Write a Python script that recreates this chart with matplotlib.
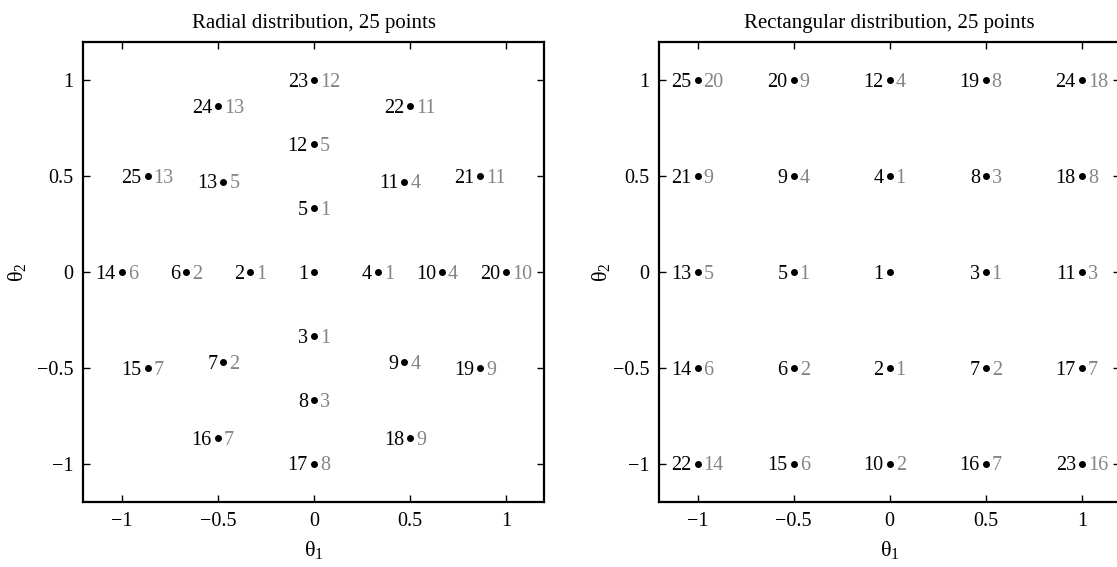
import matplotlib
matplotlib.use("Agg")
import matplotlib.pyplot as plt

plt.rcParams['font.family'] = ['Liberation Serif', 'DejaVu Serif']
plt.rcParams['mathtext.fontset'] = 'custom'
plt.rcParams['mathtext.rm'] = 'Liberation Serif'

# ---- Radial distribution data ----
radial_x = [0, -0.333, 0, 0.333, 0,
            -0.667, -0.471, 0, 0.471, 0.667, 0.471, 0, -0.471,
            -1, -0.866, -0.5, 0, 0.5, 0.866, 1, 0.866, 0.5, 0, -0.5, -0.866]
radial_y = [0, 0, -0.333, 0, 0.333,
            0, -0.471, -0.667, -0.471, 0, 0.471, 0.667, 0.471,
            0, -0.5, -0.866, -1, -0.866, -0.5, 0, 0.5, 0.866, 1, 0.866, 0.5]
radial_id = list(range(1, 26))
radial_parent = ['', '1', '1', '1', '1',
                 '2', '2', '3', '4', '4', '4', '5', '5',
                 '6', '7', '7', '8', '9', '9', '10', '11', '11', '12', '13', '13']

# ---- Rectangular distribution data ----
rect_x = [-1, -0.5, 0, 0.5, 1,
          -1, -0.5, 0, 0.5, 1,
          -1, -0.5, 0, 0.5, 1,
          -1, -0.5, 0, 0.5, 1,
          -1, -0.5, 0, 0.5, 1]
rect_y = [1, 1, 1, 1, 1,
          0.5, 0.5, 0.5, 0.5, 0.5,
          0, 0, 0, 0, 0,
          -0.5, -0.5, -0.5, -0.5, -0.5,
          -1, -1, -1, -1, -1]
rect_id = [25, 20, 12, 19, 24,
           21, 9, 4, 8, 18,
           13, 5, 1, 3, 11,
           14, 6, 2, 7, 17,
           22, 15, 10, 16, 23]
rect_parent = ['20', '9', '4', '8', '18',
               '9', '4', '1', '3', '8',
               '5', '1', '', '1', '3',
               '6', '2', '1', '2', '7',
               '14', '6', '2', '7', '16']

ticks = [-1, -0.5, 0, 0.5, 1]
tick_labels = ['\u22121', '\u22120.5', '0', '0.5', '1']
titles = ['Radial distribution, 25 points', 'Rectangular distribution, 25 points']

W, H = 1117, 567
fig = plt.figure(figsize=(W / 100, H / 100), dpi=100)
fs = 14.5
gray = '#858585'
theta = '\u03b8'
dy = -0.338 * fs  # baseline shift so digits are centred on the dot

axes_px = [(83.4, 41.7, 461, 460.3), (659.2, 41.7, 461, 460.3)]
ylabel_x = [-0.12, -0.102]
datasets = [(radial_x, radial_y, radial_id, radial_parent),
            (rect_x, rect_y, rect_id, rect_parent)]

for (l, t, w, h), (xs, ys, ids, parents), title, ylx in zip(axes_px, datasets, titles, ylabel_x):
    ax = fig.add_axes([l / W, 1 - (t + h) / H, w / W, h / H])
    ax.set_xlim(-1.2, 1.2)
    ax.set_ylim(-1.2, 1.2)
    ax.set_xticks(ticks)
    ax.set_yticks(ticks)
    ax.set_xticklabels(tick_labels, fontsize=fs)
    ax.set_yticklabels(tick_labels, fontsize=fs)
    ax.tick_params(direction='in', length=5, width=1, top=True, right=True,
                   pad=7)
    for sp in ax.spines.values():
        sp.set_linewidth(1.6)
    ax.plot(xs, ys, 'o', color='black', markersize=4, linestyle='none')
    for x, y, i, p in zip(xs, ys, ids, parents):
        ax.annotate(str(i), (x, y), xytext=(-4.3, dy), textcoords='offset points',
                    ha='right', va='baseline', fontsize=fs, color='black')
        if p:
            ax.annotate(p, (x, y), xytext=(4.3, dy), textcoords='offset points',
                        ha='left', va='baseline', fontsize=fs, color=gray)
    ax.set_title(title, fontsize=15, pad=10)
    ax.set_xlabel(r'$\mathregular{' + theta + r'_1}$', fontsize=16, labelpad=6)
    ax.set_ylabel(r'$\mathregular{' + theta + r'_2}$', fontsize=16)
    ax.yaxis.set_label_coords(ylx, 0.5)

fig.savefig('out.png', dpi=100)
